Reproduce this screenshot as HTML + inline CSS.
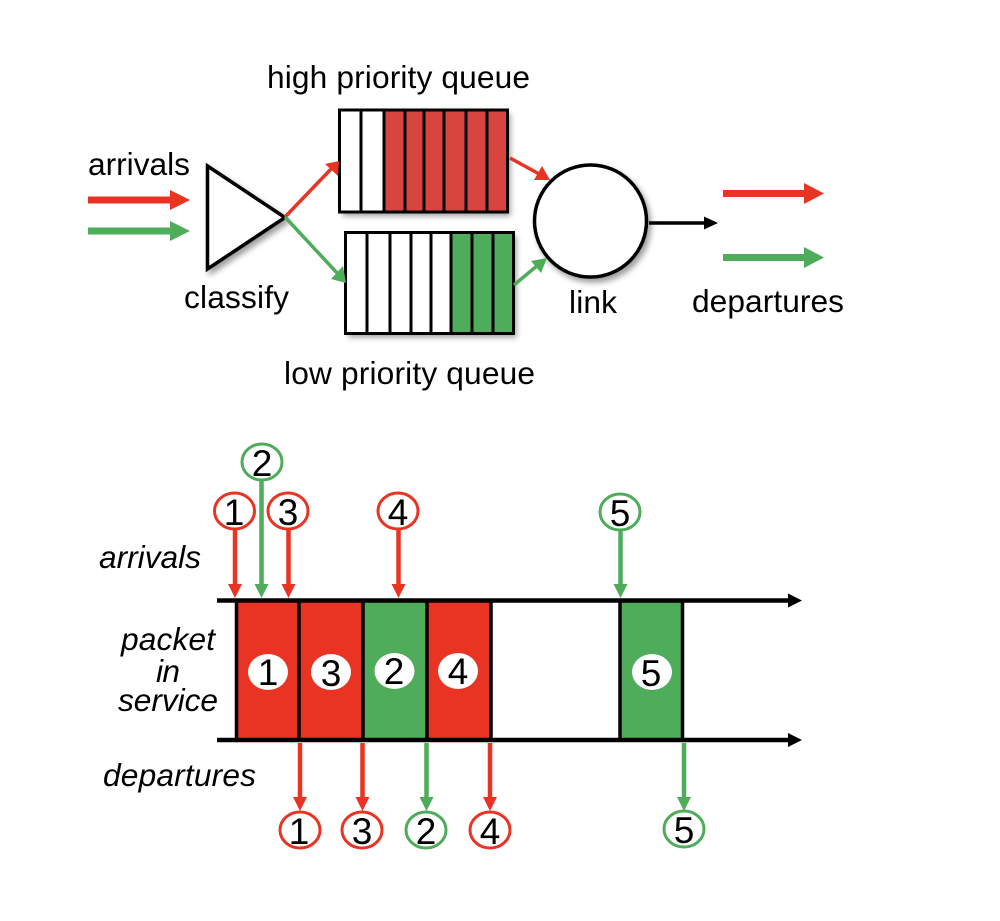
<!DOCTYPE html>
<html><head><meta charset="utf-8"><style>
html,body{margin:0;padding:0;background:#fff}
svg{display:block;filter:blur(.35px)}
text{font-family:"Liberation Sans",Arial,sans-serif;fill:#000}
.t{font-size:31.7px}
.i{font-size:31.7px;font-style:italic}
.n{font-size:37px;text-anchor:middle}
</style></head><body>
<svg width="1000" height="921" viewBox="0 0 1000 921" xmlns="http://www.w3.org/2000/svg">
<defs><filter id="s" x="-20%" y="-20%" width="150%" height="150%"><feDropShadow dx="3" dy="4" stdDeviation="3" flood-color="#000" flood-opacity=".38"/></filter></defs>
<rect width="1000" height="921" fill="#fff"/>

<!-- queues -->
<g filter="url(#s)">
<rect x="339.5" y="110" width="168" height="102" fill="#fff"/>
</g>
<rect x="384" y="110" width="123" height="102" fill="#D8453F"/>
<g stroke="#000" stroke-width="3" fill="none">
<rect x="339.5" y="110" width="168" height="102"/>
<path d="M361 110V212M384 110V212M405 110V212M424 110V212M444 110V212M466 110V212M487 110V212"/>
</g>
<g filter="url(#s)">
<rect x="345.5" y="232.5" width="168" height="101" fill="#fff"/>
</g>
<rect x="451" y="232.5" width="62" height="101" fill="#4EAC5B"/>
<g stroke="#000" stroke-width="3" fill="none">
<rect x="345.5" y="232.5" width="168" height="101"/>
<path d="M367 232V334M390 232V334M411 232V334M431 232V334M451 232V334M472 232V334M493 232V334"/>
</g>

<!-- triangle -->
<polygon points="207.500,166 285,217.500 207.500,269" fill="#fff" stroke="#000" stroke-width="3.500" filter="url(#s)"/>
<!-- link -->
<circle cx="590.500" cy="221" r="56" fill="#fff" stroke="#000" stroke-width="3.500" filter="url(#s)"/>

<!-- arrival arrows -->
<rect x="88" y="196.500" width="83" height="7" fill="#E93423"/><polygon points="170,190 190,200 170,210" fill="#E93423"/>
<rect x="88" y="227.500" width="83" height="7" fill="#4EAC5B"/><polygon points="170,221 190,231 170,241" fill="#4EAC5B"/>
<rect x="723" y="190" width="82" height="7" fill="#E93423"/><polygon points="804,183 824,193.500 804,204" fill="#E93423"/>
<rect x="723" y="254" width="82" height="7" fill="#4EAC5B"/><polygon points="804,247 824,257.500 804,268" fill="#4EAC5B"/>

<!-- queue connectors -->
<path d="M285 217L331 169" stroke="#E93423" stroke-width="3.500" fill="none"/><polygon points="339,161 338,176 325,164" fill="#E93423"/>
<path d="M285 217L338 274" stroke="#4EAC5B" stroke-width="3.500" fill="none"/><polygon points="346,283 331,279 343,266" fill="#4EAC5B"/>
<path d="M510 158L541 175" stroke="#E93423" stroke-width="3.500" fill="none"/><polygon points="550,180 534,180 542,166" fill="#E93423"/>
<path d="M514 285L538 265" stroke="#4EAC5B" stroke-width="3.500" fill="none"/><polygon points="547,258 541,273 531,261" fill="#4EAC5B"/>
<path d="M649 223H705" stroke="#000" stroke-width="3.500" fill="none"/><polygon points="704,216.500 718,223 704,229.500" fill="#000"/>

<!-- top labels -->
<text class="t" x="267" y="88" textLength="263">high priority queue</text>
<text class="t" x="88" y="175" textLength="102">arrivals</text>
<text class="t" x="184" y="308" textLength="105">classify</text>
<text class="t" x="284" y="384" textLength="251">low priority queue</text>
<text class="t" x="569" y="313" textLength="48">link</text>
<text class="t" x="692" y="312" textLength="152">departures</text>

<!-- service boxes -->
<rect x="236" y="600" width="63" height="140" fill="#E93423"/>
<rect x="299" y="600" width="64" height="140" fill="#E93423"/>
<rect x="363" y="600" width="64" height="140" fill="#4EAC5B"/>
<rect x="427" y="600" width="64" height="140" fill="#E93423"/>
<rect x="620" y="600" width="62" height="140" fill="#4EAC5B"/>
<path d="M236.500 600V740M299 600V740M363 600V740M427 600V740M491 600V740M620 600V740M682.500 600V740" stroke="#000" stroke-width="3.500" fill="none"/>

<!-- axes -->
<path d="M217 600.500H790M217 740H790" stroke="#000" stroke-width="4.500" fill="none"/>
<polygon points="788,593.500 802,600.500 788,607.500" fill="#000"/>
<polygon points="788,733 802,740 788,747" fill="#000"/>

<!-- white ellipses -->
<g fill="#fff">
<ellipse cx="268" cy="672" rx="20" ry="18"/><ellipse cx="331" cy="672" rx="20" ry="18"/><ellipse cx="394.500" cy="671" rx="20" ry="18"/><ellipse cx="458" cy="671" rx="20" ry="18"/><ellipse cx="652" cy="672" rx="20" ry="18"/>
</g>

<!-- event arrows -->
<g stroke-width="4.500" fill="none">
<path d="M235 530V586M288.500 530V586M398.500 530V586" stroke="#E93423"/>
<path d="M261.500 481V586M620.500 531V586" stroke="#4EAC5B"/>
<path d="M300 743V799M362.500 743V799M490 743V799" stroke="#E93423"/>
<path d="M426.500 743V799M684 743V799" stroke="#4EAC5B"/>
</g>
<g fill="#E93423">
<polygon points="228,584 242,584 235,598"/><polygon points="281.500,584 295.500,584 288.500,598"/><polygon points="391.500,584 405.500,584 398.500,598"/>
<polygon points="293,797 307,797 300,811"/><polygon points="355.500,797 369.500,797 362.500,811"/><polygon points="483,797 497,797 490,811"/>
</g>
<g fill="#4EAC5B">
<polygon points="254.500,584 268.500,584 261.500,598"/><polygon points="613.500,584 627.500,584 620.500,598"/>
<polygon points="419.500,797 433.500,797 426.500,811"/><polygon points="677,797 691,797 684,811"/>
</g>

<!-- numbered circles -->
<g fill="#fff" stroke-width="3">
<g stroke="#E93423">
<ellipse cx="234.500" cy="511" rx="20" ry="18"/><ellipse cx="288" cy="511" rx="20" ry="18"/><ellipse cx="398" cy="511" rx="20" ry="18"/>
<ellipse cx="300" cy="830" rx="20" ry="18"/><ellipse cx="362" cy="830" rx="20" ry="18"/><ellipse cx="490" cy="830" rx="20" ry="18"/>
</g>
<g stroke="#4EAC5B">
<ellipse cx="262" cy="462" rx="20" ry="18"/><ellipse cx="620" cy="512" rx="20" ry="18"/>
<ellipse cx="426" cy="830" rx="20" ry="18"/><ellipse cx="684" cy="829" rx="20" ry="18"/>
</g>
</g>
<text class="n" x="234" y="525">1</text><text class="n" x="262" y="476">2</text><text class="n" x="288" y="525">3</text><text class="n" x="398" y="525">4</text><text class="n" x="620" y="526">5</text>
<text class="n" x="268" y="685">1</text><text class="n" x="331" y="686">3</text><text class="n" x="394" y="684">2</text><text class="n" x="458" y="684">4</text><text class="n" x="651" y="686">5</text>
<text class="n" x="299" y="844">1</text><text class="n" x="362" y="844">3</text><text class="n" x="426" y="844">2</text><text class="n" x="490" y="844">4</text><text class="n" x="684" y="843">5</text>

<!-- italic labels -->
<text class="i" x="99" y="568" textLength="102">arrivals</text>
<text class="i" x="121" y="650" textLength="94">packet</text>
<text class="i" x="156" y="682" textLength="24">in</text>
<text class="i" x="118" y="711" textLength="100">service</text>
<text class="i" x="103" y="786" textLength="153">departures</text>
</svg>
</body></html>
